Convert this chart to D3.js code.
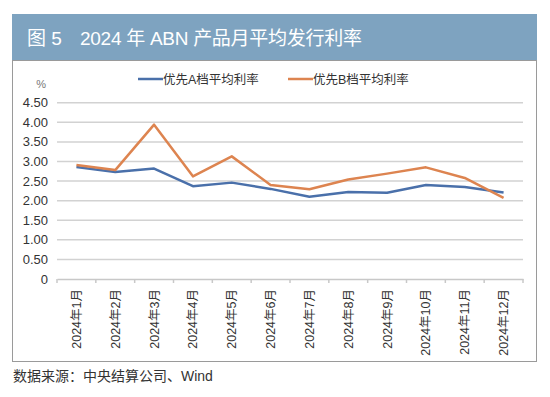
<!DOCTYPE html>
<html>
<head>
<meta charset="utf-8">
<title>ABN</title>
<script src="https://d3js.org/d3.v7.min.js"></script>
<style>
  body { margin: 0; background: #fff; }
  svg text { font-family: "Liberation Sans", "Noto Sans CJK SC", sans-serif; }
</style>
</head>
<body>
<svg width="550" height="397"></svg>
<script>
// data
var months = ["2024年1月","2024年2月","2024年3月","2024年4月","2024年5月","2024年6月",
              "2024年7月","2024年8月","2024年9月","2024年10月","2024年11月","2024年12月"];
var seriesA = [2.86, 2.73, 2.82, 2.37, 2.46, 2.30, 2.10, 2.22, 2.20, 2.40, 2.35, 2.21];
var seriesB = [2.91, 2.78, 3.94, 2.62, 3.13, 2.40, 2.29, 2.54, 2.69, 2.85, 2.58, 2.07];
var seriesNames = ["优先A档平均利率", "优先B档平均利率"];
var yTicks = [0, 0.5, 1, 1.5, 2, 2.5, 3, 3.5, 4, 4.5];

var svg = d3.select("svg");

// title bar
svg.append("rect").attr("x", 12).attr("y", 14).attr("width", 525).attr("height", 46)
   .attr("fill", "#7ea3c0");
var title = svg.append("text").attr("y", 45).attr("fill", "#fff").style("font-size", "19px");
title.append("tspan").attr("x", 27).text("图 5");
title.append("tspan").attr("x", 80).attr("textLength", 282).attr("lengthAdjust", "spacing")
   .text("2024 年 ABN 产品月平均发行利率");

// chart frame
svg.append("rect").attr("x", 12.5).attr("y", 60.5).attr("width", 524).attr("height", 301)
   .attr("fill", "#fff").attr("stroke", "#9a9a9a");

var x = d3.scaleBand().domain(months).range([57, 523]);
var y = d3.scaleLinear().domain([0, 4.5]).range([279, 102.7]);

// grid
svg.append("g").selectAll("line").data(yTicks.slice(1)).enter().append("line")
   .attr("x1", 57).attr("x2", 523)
   .attr("y1", function(d) { return y(d); }).attr("y2", function(d) { return y(d); })
   .attr("stroke", "#d2d2d2").attr("stroke-width", 1.5);

// y labels
svg.append("g").selectAll("text").data(yTicks).enter().append("text")
   .attr("x", 48).attr("y", function(d) { return y(d) + 4.5; })
   .attr("text-anchor", "end").attr("fill", "#333").style("font-size", "13px")
   .text(function(d) { return d === 0 ? "0" : d.toFixed(2); });
svg.append("text").attr("x", 46).attr("y", 88).attr("text-anchor", "end")
   .attr("fill", "#777").style("font-size", "11px").text("%");

// x axis
var xAxis = svg.append("g").attr("transform", "translate(0," + y(0) + ")")
   .call(d3.axisBottom(x).tickSize(0).tickFormat(""));
xAxis.select(".domain").attr("stroke", "#c8c8c8").attr("stroke-width", 1.5);
var bounds = months.map(function(m) { return x(m); }).concat([x.range()[1]]);
svg.append("g").selectAll("line").data(bounds).enter().append("line")
   .attr("x1", function(d) { return d; }).attr("x2", function(d) { return d; })
   .attr("y1", y(0)).attr("y2", y(0) + 4)
   .attr("stroke", "#c8c8c8").attr("stroke-width", 1.5);

svg.append("g").selectAll("text").data(months).enter().append("text")
   .attr("transform", function(d) {
     return "translate(" + (x(d) + x.bandwidth() / 2 + 4.5) + "," + 289 + ") rotate(-90)";
   })
   .attr("text-anchor", "end").attr("fill", "#333").style("font-size", "12.5px")
   .text(function(d) { return d; });

// lines
var colors = ["#4a70aa", "#dd8450"];
var line = d3.line()
   .x(function(d, i) { return x(months[i]) + x.bandwidth() / 2; })
   .y(function(d) { return y(d); });
[seriesA, seriesB].forEach(function(s, i) {
  svg.append("path").attr("d", line(s)).attr("fill", "none")
     .attr("stroke", colors[i]).attr("stroke-width", 2.5).attr("stroke-linejoin", "round");
});

// legend
var legX = [138, 288];
seriesNames.forEach(function(n, i) {
  svg.append("line").attr("x1", legX[i]).attr("x2", legX[i] + 25)
     .attr("y1", 79).attr("y2", 79).attr("stroke", colors[i]).attr("stroke-width", 2.5);
  svg.append("text").attr("x", legX[i] + 25).attr("y", 83.5).attr("fill", "#333")
     .style("font-size", "12.5px").text(n);
});

// source
svg.append("text").attr("x", 13).attr("y", 381).attr("fill", "#333")
   .style("font-size", "14px").text("数据来源：中央结算公司、Wind");
</script>
</body>
</html>
